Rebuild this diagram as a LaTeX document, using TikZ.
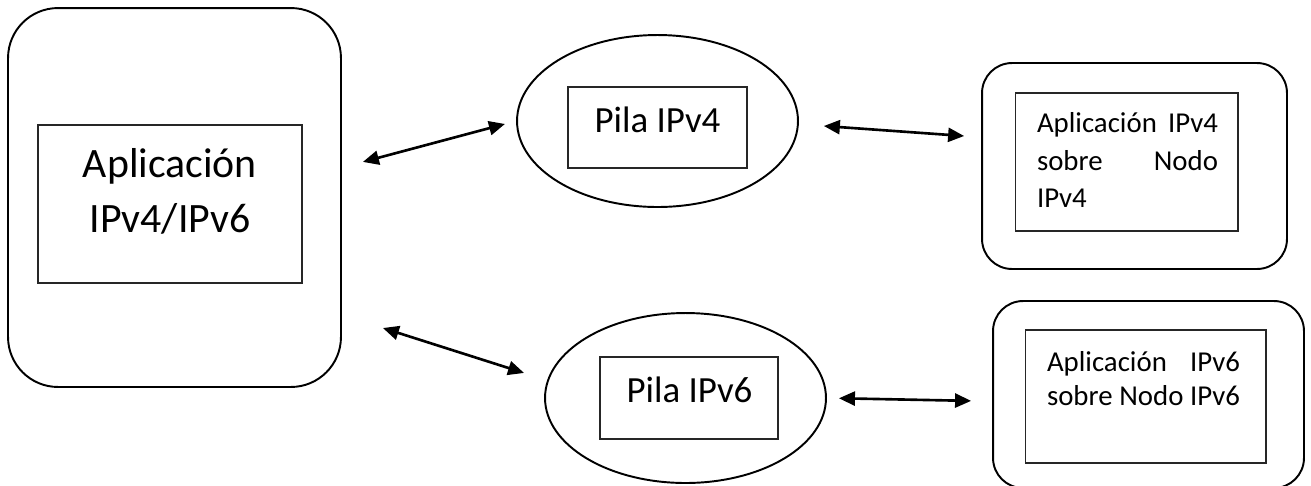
\documentclass[tikz,border=0pt]{standalone}
\usepackage{fontspec}
\setmainfont{Carlito}
\usetikzlibrary{arrows.meta,shapes.geometric}
\tikzset{
  outbox/.style={draw, line width=1.1pt, rounded corners=#1, inner sep=0pt},
  outbox/.default=0.6cm,
  inbox/.style={draw=black!85, line width=0.6pt, inner sep=0pt},
  pila/.style={ellipse, draw, line width=1.1pt, inner sep=0pt},
  bigtxt/.style={font=\fontsize{23.8}{31.2}\selectfont, align=center, inner sep=0pt},
  pilatxt/.style={font=\fontsize{21}{25}\selectfont, inner sep=0pt},
  smalltxt/.style={font=\fontsize{16.4}{#1}\selectfont, align=left, inner sep=0pt},
  biarrow/.style={{Triangle[length=0.32cm, width=0.28cm]}-{Triangle[length=0.32cm, width=0.28cm]}, line width=1.5pt},
}
\begin{document}
\begin{tikzpicture}[x=0.02cm, y=-0.02cm]
  \useasboundingbox (0,0) rectangle (1311,485);
  \clip (0,0) rectangle (1311,485);

  % aplicacion doble pila
  \node[outbox=1cm, minimum width=6.66cm, minimum height=7.58cm] (app) at (174.5,197.5) {};
  \node[inbox, minimum width=5.28cm, minimum height=3.16cm] (appbox) at (170,204) {};
  \node[bigtxt] (apptxt) at (170,191) {Aplicación\\IPv4/IPv6};

  % pilas
  \node[pila, minimum width=5.62cm, minimum height=3.44cm] (p4) at (657.5,121) {};
  \node[inbox, minimum width=3.58cm, minimum height=1.62cm] (p4box) at (657.5,127.5) {};
  \node[pilatxt, anchor=base] (p4txt) at (657.5,132) {Pila IPv4};

  \node[pila, minimum width=5.62cm, minimum height=3.4cm] (p6) at (685.5,398) {};
  \node[inbox, minimum width=3.56cm, minimum height=1.64cm] (p6box) at (689,398) {};
  \node[pilatxt, anchor=base] (p6txt) at (689.5,402.5) {Pila IPv6};

  % nodos remotos
  \node[outbox, minimum width=6.1cm, minimum height=4.12cm] (rv4) at (1134.5,166) {};
  \node[inbox, minimum width=4.46cm, minimum height=2.76cm] (rv4box) at (1126.5,162) {};
  \node[smalltxt=21.5, text width=3.62cm] (rv4txt) at (1127.5,160)
    {Aplicación\hfill IPv4\\sobre\hfill Nodo\\IPv4};

  \node[outbox, minimum width=6.22cm, minimum height=3.74cm] (rv6) at (1148.5,394.5) {};
  \node[inbox, minimum width=4.82cm, minimum height=2.66cm] (rv6box) at (1145.5,396.5) {};
  \node[smalltxt=19.8, text width=3.86cm] (rv6txt) at (1143.5,378.5)
    {Aplicación\hfill IPv6\\sobre\hfill Nodo\hfill IPv6};

  % flechas
  \draw[biarrow, shorten <=0.434cm, shorten >=0.23cm] ([yshift=0.6cm]app.east) -- (p4.west);
  \draw[biarrow, shorten <=0.86cm, shorten >=0.42cm] ([yshift=-2.35cm]app.east) -- ([yshift=0.374cm]p6.west);
  \draw[biarrow, shorten <=0.5cm, shorten >=0.34cm] ([yshift=-0.064cm]p4.east) -- ([yshift=0.576cm]rv4.west);
  \draw[biarrow, shorten <=0.24cm, shorten >=0.42cm] (p6.east) -- ([yshift=-0.136cm]rv6.west);
\end{tikzpicture}
\end{document}
